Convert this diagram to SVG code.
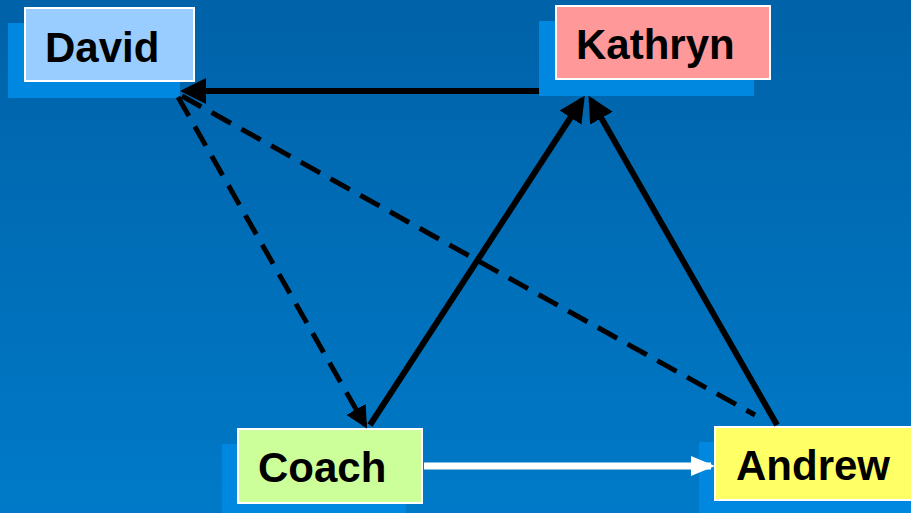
<svg xmlns="http://www.w3.org/2000/svg" width="911" height="513" viewBox="0 0 911 513">
<defs>
<linearGradient id="bg" x1="0" y1="0" x2="0" y2="1">
<stop offset="0" stop-color="#0062A8"/>
<stop offset="1" stop-color="#007AC8"/>
</linearGradient>
<marker id="ah" viewBox="0 0 26 26" refX="21" refY="13" markerWidth="26" markerHeight="26" markerUnits="userSpaceOnUse" orient="auto">
<path d="M0,0 L26,13 L0,26 z" fill="#000"/>
</marker>
<marker id="ahs" viewBox="0 0 22 22" refX="18" refY="11" markerWidth="22" markerHeight="22" markerUnits="userSpaceOnUse" orient="auto">
<path d="M0,0 L22,11 L0,22 z" fill="#000"/>
</marker>
<marker id="ahw" viewBox="0 0 24 20" refX="20" refY="10" markerWidth="24" markerHeight="20" markerUnits="userSpaceOnUse" orient="auto">
<path d="M0,0 L24,10 L0,20 z" fill="#fff"/>
</marker>
</defs>
<style>
.shadow{fill:#0088E0}
.box{stroke:#fff;stroke-width:2}
.label{font-family:"Liberation Sans",Arial,sans-serif;font-weight:bold;font-size:42px;fill:#000}
.solid{stroke:#000;stroke-width:6;fill:none}
.dash{stroke:#000;stroke-width:5;fill:none;stroke-dasharray:22 12}
</style>
<rect width="911" height="513" fill="url(#bg)"/>
<g id="david">
<rect class="shadow" x="8" y="23" width="172" height="75"/>
<rect class="box" x="25" y="8" width="169" height="73" fill="#99CCFF"/>
<text class="label" x="45" y="62">David</text>
</g>
<g id="kathryn">
<rect class="shadow" x="539" y="21" width="215" height="75"/>
<rect class="box" x="556" y="6" width="214" height="73" fill="#FF9999"/>
<text class="label" x="576" y="59">Kathryn</text>
</g>
<g id="coach">
<rect class="shadow" x="222" y="444" width="184" height="69"/>
<rect class="box" x="238" y="429" width="184" height="74" fill="#CCFF99"/>
<text class="label" x="258" y="482">Coach</text>
</g>
<g id="andrew">
<rect class="shadow" x="699" y="442" width="212" height="71"/>
<rect class="box" x="715" y="427" width="200" height="73" fill="#FFFF66"/>
<text class="label" x="736" y="480">Andrew</text>
</g>
<g id="connectors">
<line class="solid" x1="539" y1="91" x2="185" y2="91" marker-end="url(#ah)"/>
<line class="solid" x1="370" y1="425" x2="582" y2="100" marker-end="url(#ah)"/>
<line class="solid" x1="777" y1="425" x2="591" y2="100" marker-end="url(#ah)"/>
<line class="dash" x1="178" y1="97" x2="365" y2="425" marker-end="url(#ahs)"/>
<line class="dash" x1="182" y1="96" x2="755" y2="415"/>
<line stroke="#fff" stroke-width="7" x1="424" y1="466" x2="711" y2="466" marker-end="url(#ahw)"/>
</g>
</svg>
